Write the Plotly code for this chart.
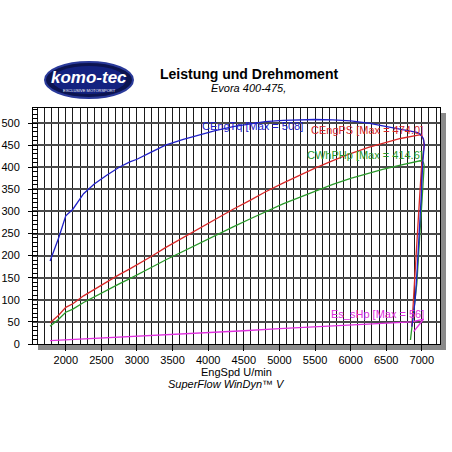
import plotly.graph_objects as go

# ---- data ----
rpm_tq = [1780, 1900, 2000, 2100, 2250, 2400, 2575, 2750, 2900, 3000, 3200, 3400, 3650, 3900,
          4100, 4350, 4600, 4800, 5050, 5300, 5500, 5750, 6000, 6250, 6450, 6700, 6930, 6976,
          7020, 7035, 7025, 7012, 6990, 6966, 6935, 6906, 6880, 6860]
eng_tq = [188, 240, 290, 305, 340, 362, 382, 400, 412, 418, 434, 450, 463, 475,
          483, 492, 498, 503, 506, 507, 508, 507, 505, 500, 494, 487, 479, 475,
          465, 452, 430, 408, 330, 250, 170, 99, 60, 39]

rpm_ps = [1780, 1900, 2000, 2100, 2250, 2400, 2575, 2750, 2900, 3000, 3200, 3400, 3650, 3900,
          4100, 4350, 4600, 4800, 5050, 5300, 5500, 5750, 6000, 6250, 6450, 6700, 6930, 6990,
          7025, 7030, 7015, 6995, 6968, 6936, 6906, 6880, 6860]
eng_ps = [48, 65, 83, 91, 109, 124, 140, 157, 170, 179, 198, 218, 241, 264,
          282, 305, 326, 344, 364, 383, 398, 415, 431, 445, 454, 465, 472, 474,
          462, 448, 425, 400, 330, 248, 168, 98, 40]

rpm_whp = [1780, 1900, 2000, 2100, 2250, 2400, 2575, 2750, 2900, 3000, 3200, 3400, 3650, 3900,
           4100, 4350, 4600, 4800, 5050, 5300, 5500, 5750, 6000, 6250, 6450, 6700, 6930, 6976,
           7020, 7032, 7020, 7000, 6965, 6930, 6885, 6840]
wh_hp = [40, 56, 72, 79, 94, 107, 121, 136, 148, 156, 173, 190, 210, 230,
         246, 265, 284, 299, 317, 333, 346, 361, 375, 387, 395, 405, 412, 414.6,
         412, 404, 370, 325, 230, 137, 70, 9]

rpm_loss = [1780, 2500, 3000, 3500, 4000, 4500, 5000, 5500, 6000, 6500, 6857, 7023, 6885]
loss_hp = [7.5, 13, 17, 21, 26, 30, 35, 39, 44, 47, 50, 56, 28]

x_ticks = [2000, 2500, 3000, 3500, 4000, 4500, 5000, 5500, 6000, 6500, 7000]
y_ticks = [0, 50, 100, 150, 200, 250, 300, 350, 400, 450, 500]

labels = [
    ("CEngTq [Max = 508]", 3890, 494, "#2020c8"),
    ("CEngPS [Max = 474.0]", 5420, 484, "#d82828"),
    ("CWhPHp [Max = 414.6]", 5360, 428, "#2a9a2a"),
    ("Es_sHp [Max = 56]", 5702, 69, "#e030e0"),
]

FONT = "Liberation Sans, Arial, sans-serif"

fig = go.Figure()
fig.add_trace(go.Scatter(x=rpm_loss, y=loss_hp, mode="lines", line=dict(color="#e030e0", width=1.3)))
fig.add_trace(go.Scatter(x=rpm_whp, y=wh_hp, mode="lines", line=dict(color="#2a9a2a", width=1.3)))
fig.add_trace(go.Scatter(x=rpm_ps, y=eng_ps, mode="lines", line=dict(color="#d82828", width=1.3)))
fig.add_trace(go.Scatter(x=rpm_tq, y=eng_tq, mode="lines", line=dict(color="#2020c8", width=1.3)))

for txt, xx, yy, col in labels:
    fig.add_annotation(x=xx, y=yy, text=txt, showarrow=False, xanchor="left", yanchor="middle",
                       font=dict(family=FONT, size=11, color=col))

def px2paper_x(px):
    return (px - 33) / 407.0

def px2paper_y(py):
    return (344 - py) / 236.0

shapes = [
    # drop shadow
    dict(type="rect", xref="paper", yref="paper", x0=1.0, x1=px2paper_x(446),
         y0=px2paper_y(350), y1=px2paper_y(113), fillcolor="#8a8a8a", line=dict(width=0), layer="below"),
    dict(type="rect", xref="paper", yref="paper", x0=px2paper_x(38), x1=px2paper_x(446),
         y0=px2paper_y(350), y1=0, fillcolor="#8a8a8a", line=dict(width=0), layer="below"),
    # logo ellipse
    dict(type="circle", xref="paper", yref="paper", x0=px2paper_x(45), x1=px2paper_x(133),
         y0=px2paper_y(98), y1=px2paper_y(62), fillcolor="#0c1450", line=dict(color="#2a3a9a", width=2)),
    dict(type="circle", xref="paper", yref="paper", x0=px2paper_x(52), x1=px2paper_x(126),
         y0=px2paper_y(94), y1=px2paper_y(66), fillcolor="#1a2ea8", line=dict(width=0), opacity=0.55),
]

def paper_text(px, py, text, size, color="black"):
    fig.add_annotation(xref="paper", yref="paper", x=px2paper_x(px), y=px2paper_y(py),
                       text=text, showarrow=False, xanchor="center", yanchor="middle",
                       font=dict(family=FONT, size=size, color=color))

paper_text(89, 78, "<b><i>komo-tec</i></b>", 17, "white")
paper_text(89, 90, "EXCLUSIVE MOTORSPORT", 4, "white")
paper_text(249, 74, "<b>Leistung und Drehmoment</b>", 14)
paper_text(248, 88, "<i>Evora 400-475,</i>", 11)
paper_text(236, 372, "EngSpd U/min", 11)
paper_text(226, 384, "<i>SuperFlow WinDyn™ V</i>", 11)

fig.update_layout(
    width=452, height=452,
    margin=dict(l=33, r=12, t=108, b=108, autoexpand=False),
    paper_bgcolor="white", plot_bgcolor="white",
    showlegend=False,
    shapes=shapes,
    font=dict(family=FONT, size=11, color="black"),
)
fig.update_xaxes(
    range=[1540, 7255], tickvals=x_ticks, ticktext=[str(v) for v in x_ticks],
    showgrid=True, gridcolor="#1a1a1a", gridwidth=1,
    minor=dict(dtick=100, tick0=0, showgrid=True, gridcolor="#1a1a1a", gridwidth=1),
    ticks="outside", ticklen=6, tickcolor="black", automargin=False,
    showline=True, linecolor="black", linewidth=1, mirror=True,
    zeroline=False, tickfont=dict(family=FONT, size=11),
)
fig.update_yaxes(
    range=[0, 534], tickvals=y_ticks, ticktext=[str(v) for v in y_ticks],
    showgrid=True, gridcolor="#4a4a4a", gridwidth=1.5,
    minor=dict(dtick=10, tick0=0, ticks="inside", ticklen=5, tickcolor="black", showgrid=False),
    ticks="outside", ticklen=4, tickcolor="black", ticklabelstandoff=6, automargin=False,
    showline=True, linecolor="black", linewidth=1, mirror=True,
    zeroline=False, tickfont=dict(family=FONT, size=11),
)

fig.write_html("out.html",
               config={"displayModeBar": False},
               post_script="document.body.style.margin='0';document.body.style.padding='0';"
                           "document.body.style.overflow='hidden';")
